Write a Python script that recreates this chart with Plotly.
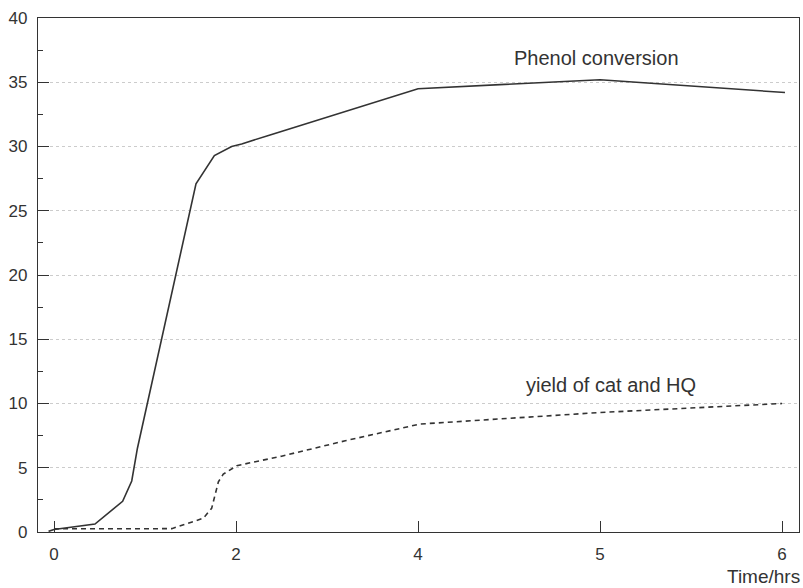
import plotly.graph_objects as go

# x positions are in axis units where the (evenly spaced) ticks sit at 0..4
tick_vals = [0, 1, 2, 3, 4]
tick_text = ["0", "2", "4", "5", "6"]
y_ticks = [0, 5, 10, 15, 20, 25, 30, 35, 40]

phenol_x = [-0.03, 0.0, 0.225, 0.377, 0.427, 0.458, 0.780, 0.881, 0.976, 1.031, 1.187, 2.0, 3.0, 4.016]
phenol_y = [0.05, 0.2, 0.62, 2.39, 3.97, 6.5, 27.1, 29.3, 30.0, 30.2, 30.9, 34.5, 35.2, 34.2]

yield_x = [0.0, 0.647, 0.82, 0.866, 0.903, 0.93, 1.004, 1.25, 1.6, 2.01, 3.0, 4.0]
yield_y = [0.25, 0.26, 1.07, 1.84, 3.9, 4.5, 5.16, 5.9, 7.1, 8.4, 9.3, 10.0]

label_phenol = "Phenol conversion"
label_yield = "yield of cat and HQ"
x_title = "Time/hrs"

ink = "#333333"
font = dict(family="Liberation Sans, Arial, sans-serif", size=17, color=ink)
big = dict(family="Liberation Sans, Arial, sans-serif", size=20, color=ink)
title_font = dict(family="Liberation Sans, Arial, sans-serif", size=19, color=ink)

fig = go.Figure()
fig.add_trace(go.Scatter(x=phenol_x, y=phenol_y, mode="lines",
                         line=dict(color=ink, width=1.6), showlegend=False))
fig.add_trace(go.Scatter(x=yield_x, y=yield_y, mode="lines",
                         line=dict(color=ink, width=1.6, dash="5px,4px"), showlegend=False))

fig.add_annotation(x=2.978, y=36.9, text=label_phenol, showarrow=False,
                   xanchor="center", yanchor="middle", font=big)
fig.add_annotation(x=3.06, y=11.44, text=label_yield, showarrow=False,
                   xanchor="center", yanchor="middle", font=big)
fig.add_annotation(x=1.0035, y=-0.086, xref="paper", yref="paper", text=x_title,
                   showarrow=False, xanchor="right", yanchor="middle", font=title_font)

fig.update_xaxes(range=[-0.088, 4.093], tickvals=tick_vals, ticktext=tick_text,
                 ticks="inside", ticklen=11, tickcolor=ink, tickwidth=1,
                 showgrid=False, zeroline=False, showline=True, linecolor=ink,
                 linewidth=1.2, mirror=True, tickfont=font, ticklabelstandoff=6)
fig.update_yaxes(range=[0, 40], tickvals=y_ticks, ticks="inside", ticklen=11,
                 tickcolor=ink, tickwidth=1,
                 minor=dict(dtick=2.5, ticks="inside", ticklen=5, tickcolor=ink, showgrid=False),
                 showgrid=True, gridcolor="#cccccc", griddash="dot", gridwidth=1,
                 zeroline=False, showline=True, linecolor=ink, linewidth=1.2, mirror=True,
                 tickfont=font, ticklabelstandoff=6)

fig.update_layout(width=803, height=588, margin=dict(l=38, r=4, t=18, b=56),
                  plot_bgcolor="white", paper_bgcolor="white", font=font)

fig.write_html("out.html")
